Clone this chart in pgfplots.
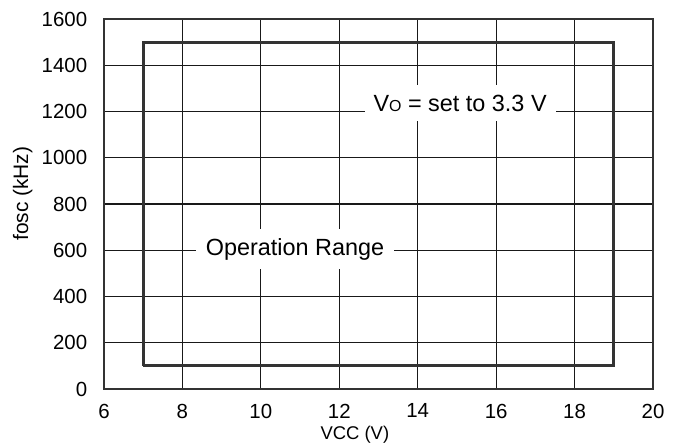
\documentclass[border=0pt]{standalone}
\usepackage{fontspec}
\setmainfont{Liberation Sans}
\usepackage{pgfplots}
\pgfplotsset{compat=1.18}
\begin{document}
\fontsize{20}{24}\selectfont
\begin{tikzpicture}
\begin{axis}[
  name=ax,
  scale only axis,
  width=549bp, height=370bp,
  xmin=6, xmax=20, ymin=0, ymax=1600,
  xtick={6,8,...,20},
  ytick={0,200,...,1600},
  grid=major,
  major grid style={line width=1.1bp, black!90},
  axis line style={line width=1.4bp, black!80},
  tick style={draw=none},
  /pgf/number format/assume math mode=true,
  /pgf/number format/1000 sep={},
  ticklabel style={font=\fontsize{20.5}{24}\selectfont},
  xticklabel style={yshift=-8bp},
  yticklabel style={xshift=-10bp},
  xlabel={VCC (V)},
  ylabel={fosc (kHz)},
  xlabel style={font=\fontsize{18.5}{22}\selectfont,
    at={(axis description cs:0.457,-0.124)}, anchor=center},
  ylabel style={font=\fontsize{21}{24}\selectfont,
    at={(axis description cs:-0.148,0.528)}, anchor=center},
]
\addplot[line width=3bp, black!80, line join=miter] coordinates {
  (7,100) (19,100) (19,1500) (7,1500) (7,100)
};
\node[fill=white, inner xsep=9bp, minimum height=36bp, font=\fontsize{23.5}{26}\selectfont]
  at (axis cs:15.08,1235) {V{\fontsize{16}{18}\selectfont O} = set to 3.3 V};
\node[fill=white, inner xsep=10bp, minimum height=40bp, font=\fontsize{23.5}{26}\selectfont]
  at (axis cs:10.87,605) {Operation Range};
\end{axis}
\pgfresetboundingbox
\path[use as bounding box] ([xshift=-104bp,yshift=-59bp]ax.south west)
  rectangle ([xshift=22bp,yshift=19bp]ax.north east);
\end{tikzpicture}
\end{document}
